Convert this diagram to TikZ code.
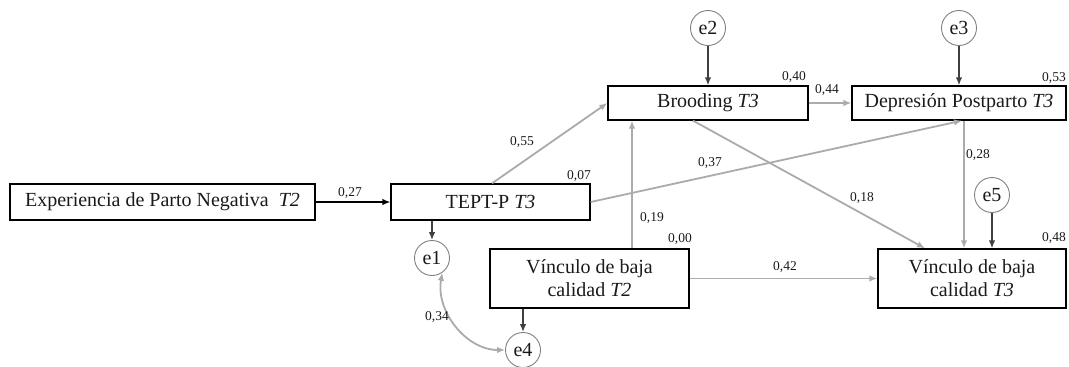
\documentclass[tikz,border=0pt]{standalone}
\usepackage{fontspec}
\setmainfont{Liberation Serif}
\usetikzlibrary{arrows.meta}

\definecolor{pathgray}{HTML}{ABABAB}
\definecolor{errgray}{HTML}{404040}
\definecolor{ringgray}{HTML}{808080}
\definecolor{inkcol}{HTML}{1A1A1A}

\begin{document}
\begin{tikzpicture}[x=1pt,y=-1pt,
  varbox/.style={draw=black, line width=1.3pt, inner sep=0pt, align=center,
    text=inkcol, font=\fontsize{20}{23}\selectfont},
  errnode/.style={circle, draw=ringgray, line width=0.9pt, minimum size=35pt,
    inner sep=0pt, text=inkcol, font=\fontsize{20}{23}\selectfont},
  tip/.style={-{Latex[length=8pt,width=6.5pt]}},
  mainpath/.style={tip, draw=black, line width=1.4pt},
  gpath/.style={tip, draw=pathgray, line width=1.8pt},
  epath/.style={tip, draw=errgray, line width=1.5pt},
  covpath/.style={{Latex[length=8pt,width=6.5pt]}-{Latex[length=8pt,width=6.5pt]}, draw=pathgray, line width=1.8pt},
  coef/.style={inner sep=0pt, text=inkcol, font=\fontsize{13.5}{15}\selectfont}]

\useasboundingbox (0,0) rectangle (1069,367);

% observed variables
\node[varbox, minimum width=305pt, minimum height=36pt] (exp) at (162.5,202) {Experiencia de Parto Negativa \ \textit{T2}};
\node[varbox, minimum width=199pt, minimum height=36pt] (tept) at (490.5,202) {TEPT-P \textit{T3}};
\node[varbox, minimum width=200pt, minimum height=34pt] (brood) at (708,103) {Brooding \textit{T3}};
\node[varbox, minimum width=214pt, minimum height=34pt] (dep) at (959,103) {Depresión Postparto \textit{T3}};
\node[varbox, minimum width=199pt, minimum height=59pt] (vt2) at (589.5,278.5) {Vínculo de baja\\calidad \textit{T2}};
\node[varbox, minimum width=188pt, minimum height=59pt] (vt3) at (972,278.5) {Vínculo de baja\\calidad \textit{T3}};

% error terms
\node[errnode] (e1) at (432,258) {e1};
\node[errnode] (e2) at (708,28) {e2};
\node[errnode] (e3) at (959,28) {e3};
\node[errnode] (e4) at (523,350) {e4};
\node[errnode] (e5) at (992,195) {e5};

% structural paths
\draw[mainpath] (exp.east) -- (tept.west);
\draw[gpath] ([xshift=1.5pt]tept.north) -- (brood.west);
\draw[gpath] (tept.east) -- ([xshift=3pt]dep.south);
\draw[gpath] (brood.east) -- (dep.west);
\draw[gpath] ([xshift=-15pt]brood.south) -- ([xshift=-47pt]vt3.north);
\draw[gpath] ([xshift=5pt]dep.south) -- ([xshift=5pt]dep.south |- vt3.north);
\draw[gpath] ([xshift=42.5pt]vt2.north) -- ([xshift=42.5pt]vt2.north |- brood.south);
\draw[gpath] (vt2.east) -- (vt3.west);

% error paths
\draw[epath] (e1 |- tept.south) -- (e1);
\draw[epath] (e2) -- (e2 |- brood.north);
\draw[epath] (e3) -- (e3 |- dep.north);
\draw[epath] (e4 |- vt2.south) -- (e4);
\draw[epath] (e5) -- (e5 |- vt3.north);
\draw[covpath] (e1.-55) to[out=-100, in=180] (e4.west);

% coefficients
\node[coef] (c27) at (350,193) {0,27};
\node[coef] (c07) at (579,176) {0,07};
\node[coef] (c55) at (522,142) {0,55};
\node[coef] (c40) at (794,77) {0,40};
\node[coef] (c44) at (827,90) {0,44};
\node[coef] (c53) at (1054,78) {0,53};
\node[coef] (c37) at (710,163) {0,37};
\node[coef] (c18) at (862,198) {0,18};
\node[coef] (c28) at (978,155) {0,28};
\node[coef] (c19) at (652,218) {0,19};
\node[coef] (c00) at (680,239) {0,00};
\node[coef] (c42) at (785,267) {0,42};
\node[coef] (c48) at (1054,238) {0,48};
\node[coef] (c34) at (437,317) {0,34};
\end{tikzpicture}
\end{document}
